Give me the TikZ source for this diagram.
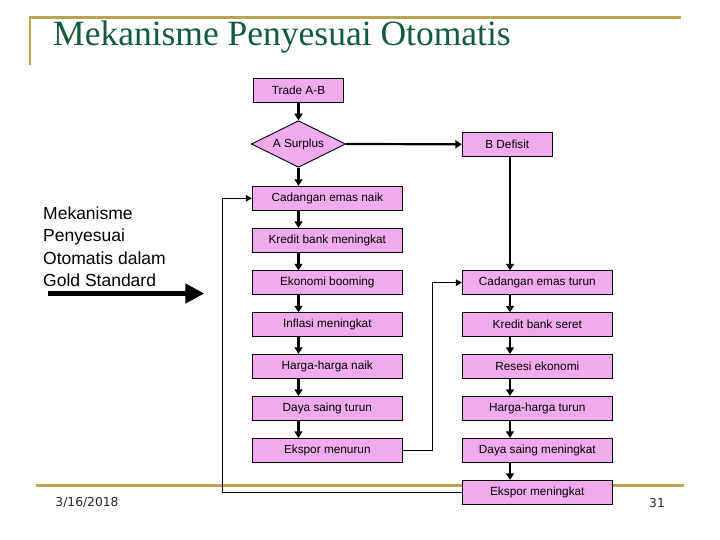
\documentclass[tikz,border=0pt]{standalone}
\usepackage{fontspec}
\setmainfont{Liberation Serif}
\setsansfont{Liberation Sans}
\newfontfamily\footfont{DejaVu Sans}
\usetikzlibrary{shapes.geometric,arrows.meta}
\definecolor{boxpink}{RGB}{240,170,238}
\definecolor{goldc}{RGB}{185,165,80}
\definecolor{titlegreen}{RGB}{20,90,60}
\begin{document}
\begin{tikzpicture}[x=1pt,y=-1pt,
  box/.style={draw=black,line width=0.9pt,fill=boxpink,minimum height=24pt,inner sep=0pt,
    font=\sffamily\fontsize{11.8}{12}\selectfont},
  wbox/.style={box,minimum width=150pt},
  nbox/.style={box,minimum width=90pt},
  flow/.style={line width=2.2pt,-{Triangle[length=6.5pt,width=8pt]}},
  fb/.style={line width=1.3pt,-{Triangle[length=6pt,width=6.5pt]}},
  goldline/.style={draw=goldc,line width=2.6pt},
  lefttxt/.style={anchor=base west,inner sep=0pt,font=\sffamily\fontsize{17.5}{18}\selectfont},
  foot/.style={inner sep=0pt,text=black!85,font=\footfont\fontsize{12.3}{12}\selectfont}
]
\useasboundingbox[fill=white] (0,0) rectangle (720,540);

% gold frame lines
\draw[goldline] (30,65) -- (30,17.3) -- (681,17.3);
\draw[goldline] (36,485.7) -- (684,485.7);

% title
\node[anchor=base west,inner sep=0pt,text=titlegreen,font=\fontsize{35.5}{36}\selectfont] (title) at (53,46) {Mekanisme Penyesuai Otomatis};

% left explanatory text
\node[lefttxt] (l1) at (43,219.3) {Mekanisme};
\node[lefttxt] (l2) at (43,241.8) {Penyesuai};
\node[lefttxt] (l3) at (43,264.3) {Otomatis dalam};
\node[lefttxt] (l4) at (43,286.8) {Gold Standard};
\coordinate (ba) at (48,293.5);
\coordinate (bb) at (204.3,293.5);
\draw[line width=5.3pt,-{Triangle[length=19pt,width=19pt]}] (ba) -- (bb);

% left column
\node[nbox] (ta) at (298.5,90.3) {Trade A-B};
\node[draw=black,line width=0.9pt,fill=boxpink,shape=diamond,aspect=2,inner sep=0pt,
  minimum width=94.4pt,minimum height=46.6pt,font=\sffamily\fontsize{11.8}{12}\selectfont] (ds) at (298.5,144) {A Surplus};
\node[nbox] (bd) at (507.3,144.3) {B Defisit};
\node[wbox] (cn) at (327.3,198.3) {Cadangan emas naik};
\node[wbox] (kb) at (327.3,240.3) {Kredit bank meningkat};
\node[wbox] (eb) at (327.3,282.7) {Ekonomi booming};
\node[wbox] (im) at (327.3,324.7) {Inflasi meningkat};
\node[wbox] (hn) at (327.3,366.3) {Harga-harga naik};
\node[wbox] (dt) at (327.3,408.3) {Daya saing turun};
\node[wbox] (emn) at (327.3,450.3) {Ekspor menurun};

% right column
\node[wbox] (ct) at (537.3,282.7) {Cadangan emas turun};
\node[wbox] (ks) at (537.3,324.7) {Kredit bank seret};
\node[wbox] (re) at (537.3,366.3) {Resesi ekonomi};
\node[wbox] (ht) at (537.3,408.3) {Harga-harga turun};
\node[wbox] (dm) at (537.3,450.3) {Daya saing meningkat};
\node[wbox] (emk) at (537.3,492.3) {Ekspor meningkat};

% footer
\node[foot] (date) at (87,503) {3/16/2018};
\node[foot] (pg) at (657,503) {31};

% flow arrows, left column
\draw[flow] (ta.south) -- (ds.north);
\draw[flow] (ds.east) -- (bd.west);
\draw[flow] (ds.south) -- (cn.north -| ds.south);
\draw[flow] (cn.south -| ds.south) -- (kb.north -| ds.south);
\draw[flow] (kb.south -| ds.south) -- (eb.north -| ds.south);
\draw[flow] (eb.south -| ds.south) -- (im.north -| ds.south);
\draw[flow] (im.south -| ds.south) -- (hn.north -| ds.south);
\draw[flow] (hn.south -| ds.south) -- (dt.north -| ds.south);
\draw[flow] (dt.south -| ds.south) -- (emn.north -| ds.south);

% flow arrows, right column
\coordinate (rc) at (510,0);
\draw[flow] (bd.south -| rc) -- (ct.north -| rc);
\draw[flow] (ct.south -| rc) -- (ks.north -| rc);
\draw[flow] (ks.south -| rc) -- (re.north -| rc);
\draw[flow] (re.south -| rc) -- (ht.north -| rc);
\draw[flow] (ht.south -| rc) -- (dm.north -| rc);
\draw[flow] (dm.south -| rc) -- (emk.north -| rc);

% feedback loops
\coordinate (f1) at (222.3,492.3);
\draw[fb] (emk.west) -- (f1) |- (cn.west);
\coordinate (f2) at (432.3,450.3);
\draw[fb] (emn.east) -- (f2) |- (ct.west);
\end{tikzpicture}
\end{document}
